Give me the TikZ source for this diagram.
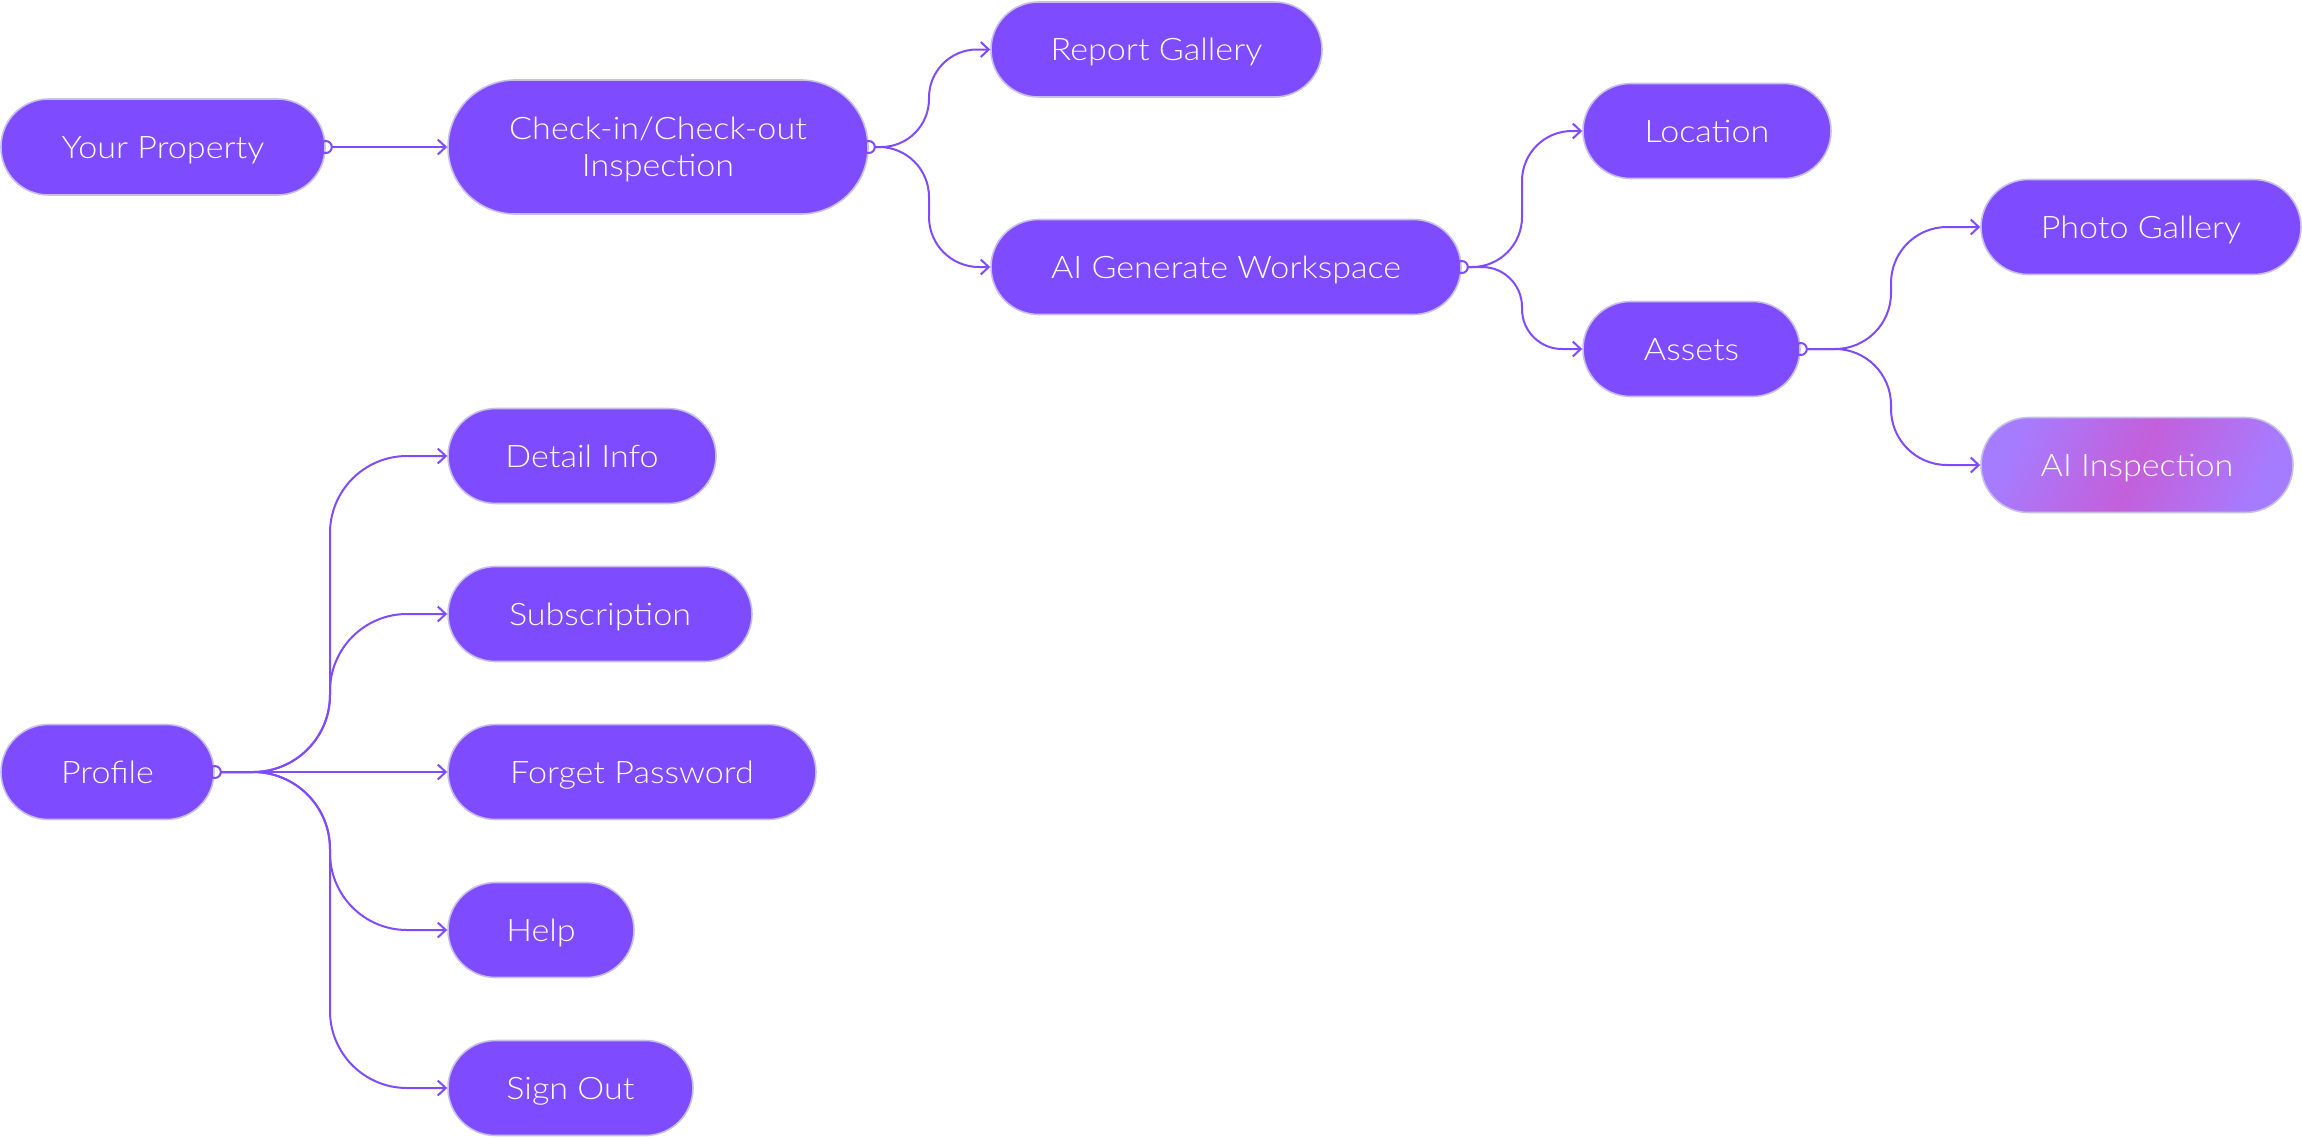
\documentclass[tikz,border=0pt]{standalone}
\usepackage{fontspec}
\setmainfont{Lato}[UprightFont={* Light}, FakeStretch=1.1]
\usetikzlibrary{arrows.meta,calc}
\definecolor{vio}{HTML}{7F4BFF}
\definecolor{bord}{HTML}{C6BFE8}
\definecolor{lav}{HTML}{A67CFF}
\definecolor{mag}{HTML}{C45FDA}
\tikzset{
  pill/.style={rectangle, rounded corners=#1, fill=vio, draw=bord, line width=1.6pt,
    inner sep=0pt, text=white, font=\fontsize{31}{37}\selectfont, align=center,
    text height=22.5pt, text depth=0pt},
  pill/.default=47.5pt,
  conn/.style={draw=vio, line width=2pt, -{Straight Barb[length=8pt,width=15pt,line width=2pt]}},
  dotc/.style={draw=vio, line width=2pt},
}
\begin{document}
\begin{tikzpicture}[x=1pt,y=-1pt]
\useasboundingbox (0,0) rectangle (2302,1138);
% nodes
\node[pill, minimum width=324pt, minimum height=96pt] (yp) at (163,147) {Your Property};
\node[pill=67pt, minimum width=420pt, minimum height=134pt, text height=59.5pt] (cin) at (658,147) {Check-in/Check-out\\Inspection};
\node[pill, minimum width=331pt, minimum height=95pt] (rg) at (1156.5,49.5) {Report Gallery};
\node[pill, minimum width=470pt, minimum height=95pt] (ai) at (1226,267) {AI Generate Workspace};
\node[pill, minimum width=248pt, minimum height=95pt] (loc) at (1707,131) {Location};
\node[pill, minimum width=217pt, minimum height=95pt] (as) at (1691.5,349) {Assets};
\node[pill, minimum width=320pt, minimum height=95pt] (pg) at (2141,227) {Photo Gallery};
\node[pill, minimum width=312pt, minimum height=95pt, left color=lav, right color=lav, middle color=mag, shading angle=65] (ains) at (2137,465) {AI Inspection};
\node[pill, minimum width=213pt, minimum height=95pt] (pr) at (107.5,772) {Profile};
\node[pill, minimum width=268pt, minimum height=95pt] (di) at (582,456) {Detail Info};
\node[pill, minimum width=304pt, minimum height=95pt] (sub) at (600,614) {Subscription};
\node[pill, minimum width=368pt, minimum height=95pt] (fp) at (632,772) {Forget Password};
\node[pill, minimum width=186pt, minimum height=95pt] (hp) at (541,930) {Help};
\node[pill, minimum width=245pt, minimum height=95pt] (so) at (570.5,1088) {Sign Out};
% start circles
\foreach \n in {yp,cin,ai,as,pr} {\draw[dotc] (\n.east) circle (6pt);}
% connectors
\draw[conn] ([xshift=6pt]yp.east) -- (cin.west);
\draw[conn, rounded corners=48pt] ([xshift=6pt]cin.east) -- (929,0 |- cin.east) -- (929,0 |- rg.west) -- (rg.west);
\draw[conn, rounded corners=50pt] ([xshift=6pt]cin.east) -- (929,0 |- cin.east) -- (929,0 |- ai.west) -- (ai.west);
\draw[conn, rounded corners=50pt] ([xshift=6pt]ai.east) -- (1522,0 |- ai.east) -- (1522,0 |- loc.west) -- (loc.west);
\draw[conn, rounded corners=40pt] ([xshift=6pt]ai.east) -- (1522,0 |- ai.east) -- (1522,0 |- as.west) -- (as.west);
\draw[conn, rounded corners=56pt] ([xshift=6pt]as.east) -- (1891,0 |- as.east) -- (1891,0 |- pg.west) -- (pg.west);
\draw[conn, rounded corners=56pt] ([xshift=6pt]as.east) -- (1891,0 |- as.east) -- (1891,0 |- ains.west) -- (ains.west);
\draw[conn, rounded corners=77pt] ([xshift=6pt]pr.east) -- (330,0 |- pr.east) -- (330,0 |- di.west) -- (di.west);
\draw[conn, rounded corners=77pt] ([xshift=6pt]pr.east) -- (330,0 |- pr.east) -- (330,0 |- sub.west) -- (sub.west);
\draw[conn] ([xshift=6pt]pr.east) -- (fp.west);
\draw[conn, rounded corners=77pt] ([xshift=6pt]pr.east) -- (330,0 |- pr.east) -- (330,0 |- hp.west) -- (hp.west);
\draw[conn, rounded corners=77pt] ([xshift=6pt]pr.east) -- (330,0 |- pr.east) -- (330,0 |- so.west) -- (so.west);
\end{tikzpicture}
\end{document}
